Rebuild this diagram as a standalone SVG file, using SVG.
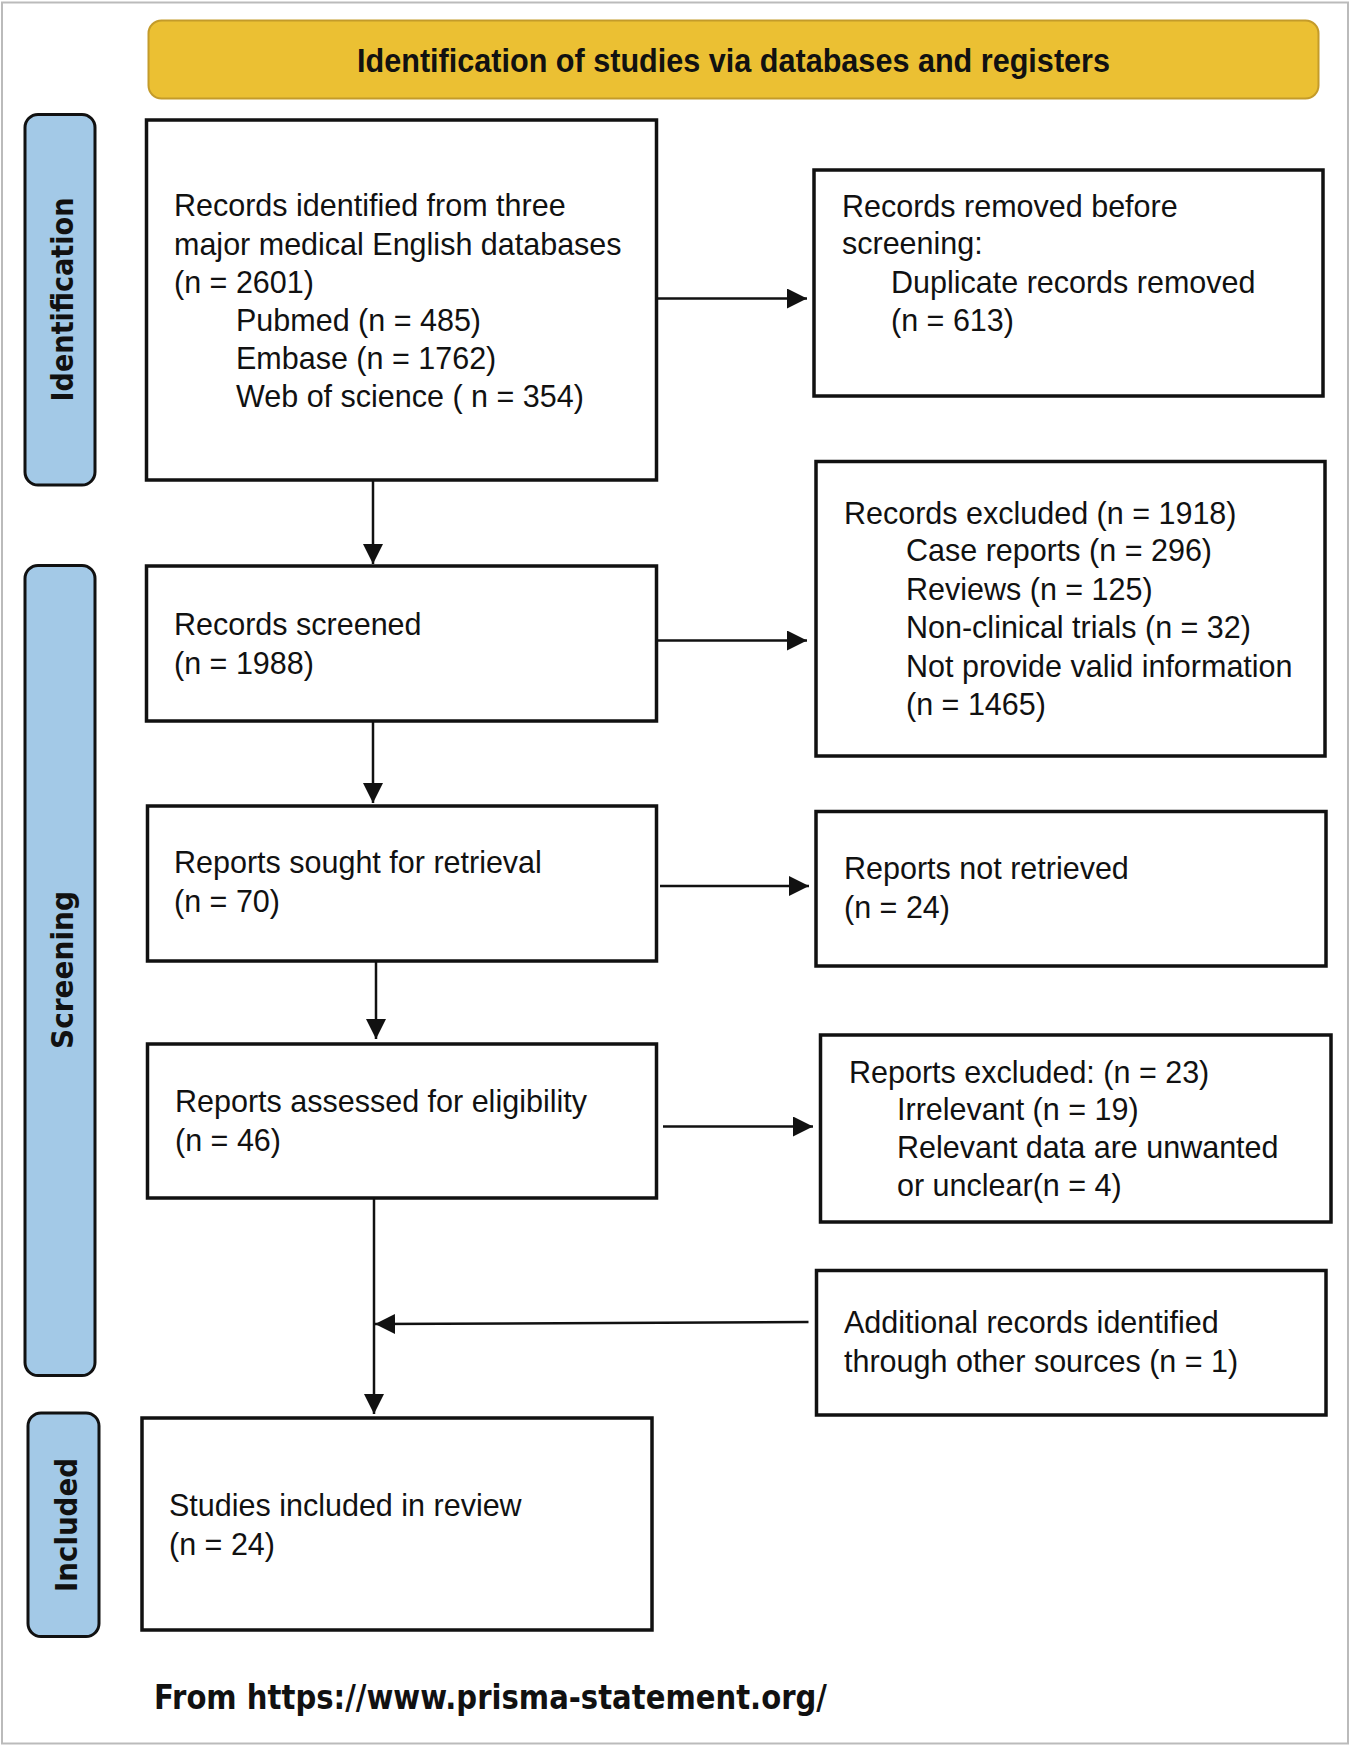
<svg xmlns="http://www.w3.org/2000/svg" width="1350" height="1746" viewBox="0 0 1350 1746">
<defs>
<style>
.box{fill:#ffffff;stroke:#111111;stroke-width:3.5}
.side{fill:#A3C9E7;stroke:#111111;stroke-width:3}
.t{font-family:"Liberation Sans",Arial,sans-serif;font-size:30.5px;fill:#111111}
.st{font-family:"DejaVu Sans",Verdana,sans-serif;font-size:30px;font-weight:bold;fill:#111111;text-anchor:middle}
.ban{font-family:"Liberation Sans",Arial,sans-serif;font-size:33px;font-weight:bold;fill:#111111;text-anchor:middle}
.foot{font-family:"DejaVu Sans",Verdana,sans-serif;font-size:33px;font-weight:bold;fill:#111111}
.ln{fill:none;stroke:#111111;stroke-width:2.5}
</style>
<marker id="ah" markerUnits="userSpaceOnUse" markerWidth="22" markerHeight="22" refX="20" refY="10" orient="auto">
<path d="M0,0 L20,10 L0,20 Z" fill="#111111"/>
</marker>
</defs>
<rect x="0" y="0" width="1350" height="1746" fill="#ffffff"/>
<rect x="2" y="2.5" width="1346" height="1741" fill="none" stroke="#bbbbbb" stroke-width="2"/>

<g id="banner">
<rect x="148.5" y="20.5" width="1170" height="78" rx="13" fill="#EBC033" stroke="#C49B2A" stroke-width="2"/>
<text class="ban" x="733.5" y="71.5" textLength="753" lengthAdjust="spacingAndGlyphs">Identification of studies via databases and registers</text>
</g>

<g id="side-identification">
<rect class="side" x="25" y="114.5" width="70" height="370.5" rx="13"/>
<text class="st" transform="translate(72.5,299.5) rotate(-90)" textLength="204" lengthAdjust="spacingAndGlyphs">Identification</text>
</g>
<g id="side-screening">
<rect class="side" x="25" y="565.5" width="70" height="810" rx="13"/>
<text class="st" transform="translate(72.5,970) rotate(-90)" textLength="158" lengthAdjust="spacingAndGlyphs">Screening</text>
</g>
<g id="side-included">
<rect class="side" x="28" y="1413" width="71" height="223.5" rx="13"/>
<text class="st" transform="translate(76.5,1525) rotate(-90)" textLength="134" lengthAdjust="spacingAndGlyphs">Included</text>
</g>

<g id="connectors">
<line class="ln" x1="656" y1="298.5" x2="807" y2="298.5" marker-end="url(#ah)"/>
<line class="ln" x1="373" y1="480" x2="373" y2="564" marker-end="url(#ah)"/>
<line class="ln" x1="656" y1="640.5" x2="807" y2="640.5" marker-end="url(#ah)"/>
<line class="ln" x1="373" y1="721" x2="373" y2="803" marker-end="url(#ah)"/>
<line class="ln" x1="660" y1="886" x2="809" y2="886" marker-end="url(#ah)"/>
<line class="ln" x1="376" y1="961" x2="376" y2="1039" marker-end="url(#ah)"/>
<line class="ln" x1="663" y1="1126.5" x2="813" y2="1126.5" marker-end="url(#ah)"/>
<line class="ln" x1="374" y1="1198" x2="374" y2="1414" marker-end="url(#ah)"/>
<line class="ln" x1="808.5" y1="1322" x2="375" y2="1324" marker-end="url(#ah)"/>
</g>

<g id="box-identified">
<rect class="box" x="146.5" y="120" width="510" height="360"/>
<text class="t" x="174" y="216">Records identified from three</text>
<text class="t" x="174" y="254.5">major medical English databases</text>
<text class="t" x="174" y="292.5">(n = 2601)</text>
<text class="t" x="236" y="330.5">Pubmed (n = 485)</text>
<text class="t" x="236" y="369">Embase (n = 1762)</text>
<text class="t" x="236" y="407">Web of science ( n = 354)</text>
</g>

<g id="box-removed">
<rect class="box" x="814" y="170" width="509" height="226"/>
<text class="t" x="842" y="217">Records removed before</text>
<text class="t" x="842" y="254">screening:</text>
<text class="t" x="891" y="293">Duplicate records removed</text>
<text class="t" x="891" y="330.5">(n = 613)</text>
</g>

<g id="box-screened">
<rect class="box" x="146.5" y="566" width="510" height="155"/>
<text class="t" x="174" y="635">Records screened</text>
<text class="t" x="174" y="674">(n = 1988)</text>
</g>

<g id="box-excluded">
<rect class="box" x="816" y="461.5" width="509" height="294.5"/>
<text class="t" x="844" y="524">Records excluded (n = 1918)</text>
<text class="t" x="906" y="561">Case reports (n = 296)</text>
<text class="t" x="906" y="599.5">Reviews (n = 125)</text>
<text class="t" x="906" y="638">Non-clinical trials (n = 32)</text>
<text class="t" x="906" y="676.5">Not provide valid information</text>
<text class="t" x="906" y="715">(n = 1465)</text>
</g>

<g id="box-sought">
<rect class="box" x="147.5" y="806" width="509" height="155"/>
<text class="t" x="174" y="873">Reports sought for retrieval</text>
<text class="t" x="174" y="912">(n = 70)</text>
</g>

<g id="box-not-retrieved">
<rect class="box" x="816" y="811.5" width="510" height="154.5"/>
<text class="t" x="844" y="879">Reports not retrieved</text>
<text class="t" x="844" y="918">(n = 24)</text>
</g>

<g id="box-assessed">
<rect class="box" x="147.5" y="1044" width="509" height="154"/>
<text class="t" x="175" y="1112">Reports assessed for eligibility</text>
<text class="t" x="175" y="1151">(n = 46)</text>
</g>

<g id="box-reports-excluded">
<rect class="box" x="820.5" y="1035" width="510.5" height="187"/>
<text class="t" x="849" y="1083">Reports excluded: (n = 23)</text>
<text class="t" x="897" y="1120">Irrelevant (n = 19)</text>
<text class="t" x="897" y="1158">Relevant data are unwanted</text>
<text class="t" x="897" y="1196">or unclear(n = 4)</text>
</g>

<g id="box-additional">
<rect class="box" x="816.5" y="1270.5" width="509.5" height="144.5"/>
<text class="t" x="844" y="1333">Additional records identified</text>
<text class="t" x="844" y="1372">through other sources (n = 1)</text>
</g>

<g id="box-included">
<rect class="box" x="142" y="1418" width="510" height="212"/>
<text class="t" x="169" y="1516">Studies included in review</text>
<text class="t" x="169" y="1555">(n = 24)</text>
</g>

<g id="footer">
<text class="foot" x="154" y="1709" textLength="673" lengthAdjust="spacingAndGlyphs">From https://www.prisma-statement.org/</text>
</g>
</svg>
